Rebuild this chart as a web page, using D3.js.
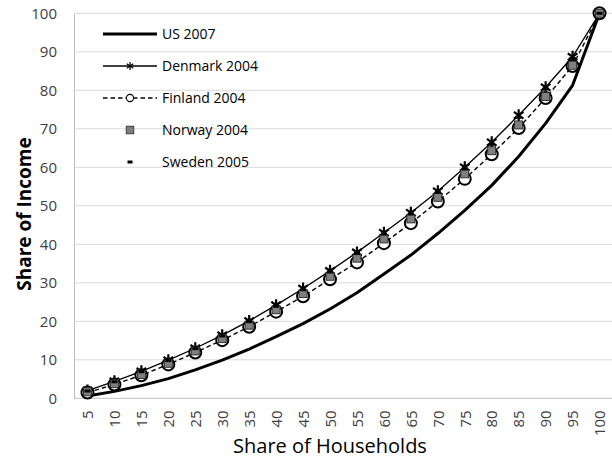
<!DOCTYPE html>
<html>
<head>
<meta charset="utf-8">
<script src="https://cdn.jsdelivr.net/npm/d3@7"></script>
<style>
  html, body { margin: 0; padding: 0; background: #fff; }
  svg { display: block; }
  text { font-family: "Open Sans", sans-serif; }
</style>
</head>
<body>
<svg id="chart" width="612" height="464"></svg>
<script>
const categories = [5,10,15,20,25,30,35,40,45,50,55,60,65,70,75,80,85,90,95,100];
const us2007      = [0.6,1.8,3.3,5.1,7.4,9.9,12.8,16.0,19.4,23.2,27.4,32.3,37.2,42.8,48.8,55.3,62.8,71.4,81.3,100];
const denmark2004 = [2.0,4.4,7.0,9.9,13.0,16.4,20.1,24.2,28.5,33.1,37.9,43.0,48.2,53.8,60.0,66.5,73.5,80.8,88.7,100];
const finland2004 = [1.5,3.6,6.0,8.8,11.9,15.1,18.6,22.5,26.5,30.9,35.3,40.3,45.5,51.1,57.0,63.4,70.2,78.0,86.3,100];
const norway2004  = [1.7,3.8,6.2,9.1,12.3,15.5,19.0,23.0,27.2,31.7,36.4,41.4,46.6,52.2,58.3,64.3,71.0,78.4,86.5,100];
const sweden2005  = [1.9,4.3,6.9,9.8,12.9,16.2,19.9,23.9,28.2,32.8,37.6,42.7,47.9,53.5,59.6,66.0,73.0,80.4,88.3,100];
const seriesNames = ["US 2007","Denmark 2004","Finland 2004","Norway 2004","Sweden 2005"];
const yTicks = [0,10,20,30,40,50,60,70,80,90,100];

const svg = d3.select("#chart");
const pLeft = 74, pRight = 613, pTop = 13.3, pBottom = 398.3;

const x = d3.scalePoint().domain(categories).range([pLeft, pRight]).padding(0.5);
const y = d3.scaleLinear().domain([0,100]).range([pBottom, pTop]);

// gridlines
svg.append("g").selectAll("line").data(yTicks.filter(d => d > 0)).join("line")
  .attr("x1", pLeft).attr("x2", 612)
  .attr("y1", d => y(d)).attr("y2", d => y(d))
  .attr("stroke", "#d9d9d9").attr("stroke-width", 1);

// axes
const yAxis = svg.append("g").attr("transform", `translate(${pLeft},0)`)
  .call(d3.axisLeft(y).tickValues(yTicks).tickSize(0).tickPadding(17));
yAxis.select(".domain").attr("stroke", "#bfbfbf");
yAxis.selectAll("text").attr("font-size", 15).attr("fill", "#404040")
  .attr("font-family", "Open Sans, sans-serif");

const xAxis = svg.append("g").attr("transform", `translate(0,${pBottom})`)
  .call(d3.axisBottom(x).tickSize(0).tickPadding(0));
xAxis.select(".domain").attr("stroke", "#bfbfbf").attr("d", `M${pLeft},0H612`);
xAxis.selectAll("text")
  .attr("font-size", 15).attr("fill", "#404040")
  .attr("font-family", "Open Sans, sans-serif")
  .attr("transform", "rotate(-90)")
  .attr("text-anchor", "end")
  .attr("x", -12).attr("y", 0).attr("dy", "0.35em");

// titles
svg.append("text").attr("x", 330).attr("y", 453).attr("text-anchor", "middle")
  .attr("font-size", 20).attr("fill", "#000").text("Share of Households");
svg.append("text").attr("transform", "translate(31,214) rotate(-90)")
  .attr("text-anchor", "middle").attr("font-size", 19).attr("font-weight", "bold")
  .attr("fill", "#000").text("Share of Income");

const line = d3.line().x((d,i) => x(categories[i])).y(d => y(d));

function starPath(s) {
  const r = s/2, d = r*0.8;
  return `M0,${-r}V${r}M${-d},${-d*0.7}L${d},${d*0.7}M${-d},${d*0.7}L${d},${-d*0.7}`;
}

// US
svg.append("path").datum(us2007).attr("d", line)
  .attr("fill", "none").attr("stroke", "#000").attr("stroke-width", 3).attr("stroke-linejoin", "round");

// Denmark
svg.append("path").datum(denmark2004).attr("d", line)
  .attr("fill", "none").attr("stroke", "#000").attr("stroke-width", 1.3);
svg.append("g").selectAll("path").data(denmark2004).join("path")
  .attr("transform", (d,i) => `translate(${x(categories[i])},${y(d)})`)
  .attr("d", starPath(12)).attr("stroke", "#000").attr("stroke-width", 2.2).attr("fill", "none");

// Finland
svg.append("path").datum(finland2004).attr("d", line)
  .attr("fill", "none").attr("stroke", "#000").attr("stroke-width", 1.4).attr("stroke-dasharray", "4.5,3");
svg.append("g").selectAll("circle").data(finland2004).join("circle")
  .attr("cx", (d,i) => x(categories[i])).attr("cy", d => y(d)).attr("r", 6)
  .attr("fill", "#fff").attr("stroke", "#000").attr("stroke-width", 2);

// Norway
svg.append("g").selectAll("rect").data(norway2004).join("rect")
  .attr("x", (d,i) => x(categories[i]) - 4).attr("y", d => y(d) - 4)
  .attr("width", 8).attr("height", 8)
  .attr("fill", "#7f7f7f").attr("stroke", "#262626").attr("stroke-width", 0.9);

// Sweden
svg.append("g").selectAll("rect").data(sweden2005).join("rect")
  .attr("x", (d,i) => x(categories[i]) - 3).attr("y", d => y(d) - 1.5)
  .attr("width", 6).attr("height", 3).attr("fill", "#000");

// legend
const lg = svg.append("g");
const rows = [34, 66, 98, 130, 162];
const lx1 = 103, lx2 = 157, lmid = 130;
lg.append("line").attr("x1", lx1).attr("x2", lx2).attr("y1", rows[0]).attr("y2", rows[0])
  .attr("stroke", "#000").attr("stroke-width", 3);
lg.append("line").attr("x1", lx1).attr("x2", lx2).attr("y1", rows[1]).attr("y2", rows[1])
  .attr("stroke", "#000").attr("stroke-width", 1.3);
lg.append("path").attr("transform", `translate(${lmid},${rows[1]})`).attr("d", starPath(8))
  .attr("stroke", "#000").attr("stroke-width", 1.2).attr("fill", "none");
lg.append("line").attr("x1", lx1).attr("x2", lx2).attr("y1", rows[2]).attr("y2", rows[2])
  .attr("stroke", "#000").attr("stroke-width", 1.4).attr("stroke-dasharray", "4.5,3");
lg.append("circle").attr("cx", lmid).attr("cy", rows[2]).attr("r", 3.6)
  .attr("fill", "#fff").attr("stroke", "#000").attr("stroke-width", 1.1);
lg.append("rect").attr("x", lmid - 3.8).attr("y", rows[3] - 3.8).attr("width", 7.6).attr("height", 7.6)
  .attr("fill", "#7f7f7f").attr("stroke", "#262626").attr("stroke-width", 0.8);
lg.append("rect").attr("x", lmid - 2.5).attr("y", rows[4] - 1.5).attr("width", 5).attr("height", 3)
  .attr("fill", "#000");
lg.selectAll("text").data(seriesNames).join("text")
  .attr("x", 162).attr("y", (d,i) => rows[i]).attr("dy", "0.35em")
  .attr("font-size", 14).attr("fill", "#000").text(d => d);
</script>
</body>
</html>
